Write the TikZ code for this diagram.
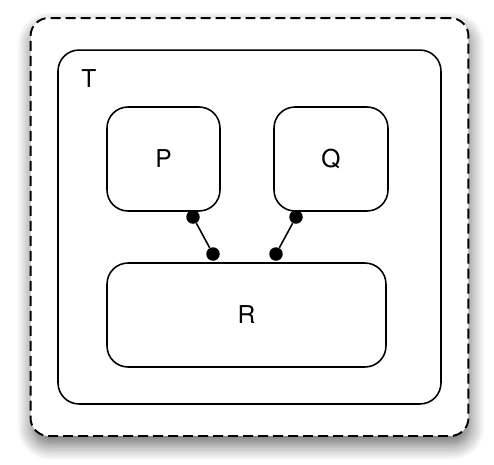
\documentclass[tikz,border=0pt]{standalone}
\usepackage{fontspec}
\setmainfont{TeX Gyre Heros}
\usetikzlibrary{shadows.blur}

\begin{document}
\begin{tikzpicture}[x=0.02cm,y=-0.02cm,
  box/.style={draw,line width=0.9pt,rounded corners=0.42cm,inner sep=0pt},
  port/.style={circle,fill,inner sep=0pt,minimum size=0.27cm},
  link/.style={line width=0.9pt},
  every node/.style={font=\fontsize{14}{16}\selectfont}]

\useasboundingbox (0,0) rectangle (494,464);

% Outer frame
\node[draw,dashed,dash pattern=on 0.2cm off 0.1cm,line width=1.1pt,rounded corners=0.36cm,
  fill=white,minimum width=8.76cm,minimum height=8.36cm,
  blur shadow={shadow xshift=0.03cm,shadow yshift=-0.18cm,shadow blur radius=0.3cm,
    shadow blur steps=12,shadow opacity=60}]
  (frame) at (249.5,227) {};

% Container T
\node[box,minimum width=7.66cm,minimum height=7.08cm] (T) at (249.5,227) {};
\node (Tlabel) at (89,79) {T};

% Components
\node[box,minimum width=2.26cm,minimum height=2.08cm] (P) at (163.5,159) {P};
\node[box,minimum width=2.28cm,minimum height=2.08cm] (Q) at (331,159) {Q};
\node[box,minimum width=5.58cm,minimum height=2.08cm] (R) at (246.5,315) {R};

% Ports
\node[port] (p1) at (193,217) {};
\node[port] (p2) at (213,254) {};
\node[port] (q1) at (296,217) {};
\node[port] (q2) at (276,254) {};

% Links
\draw[link] (p1) -- (p2);
\draw[link] (q1) -- (q2);

\end{tikzpicture}
\end{document}
